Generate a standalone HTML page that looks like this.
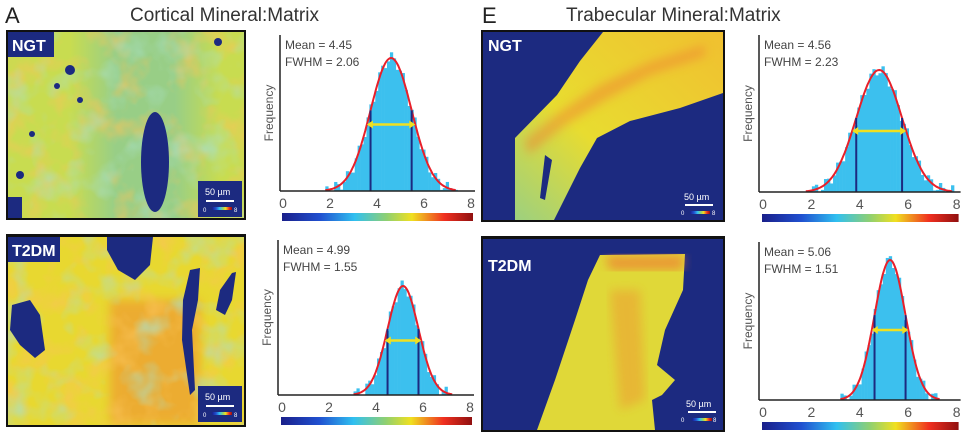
<!DOCTYPE html>
<html><head><meta charset="utf-8"><style>
html,body{margin:0;padding:0;background:#fff;}
svg{display:block;font-family:"Liberation Sans",sans-serif;}
</style></head><body>
<svg id="s" width="968" height="440" viewBox="0 0 968 440" xmlns="http://www.w3.org/2000/svg">
<defs>
<linearGradient id="jet" x1="0" x2="1" y1="0" y2="0">
<stop offset="0" stop-color="#1a1f8a"/><stop offset="0.2" stop-color="#2050d0"/><stop offset="0.38" stop-color="#30c0f0"/><stop offset="0.55" stop-color="#90d070"/><stop offset="0.68" stop-color="#f0e020"/><stop offset="0.85" stop-color="#f03020"/><stop offset="1" stop-color="#901010"/>
</linearGradient>
<linearGradient id="teal" x1="0" x2="1" y1="0" y2="0">
<stop offset="0" stop-color="#90cc90" stop-opacity="0"/><stop offset="0.3" stop-color="#90cc90" stop-opacity="0.85"/><stop offset="0.7" stop-color="#90cc90" stop-opacity="0.85"/><stop offset="1" stop-color="#90cc90" stop-opacity="0"/>
</linearGradient>
<linearGradient id="band" x1="0" x2="1" y1="1" y2="0">
<stop offset="0" stop-color="#9cd080"/><stop offset="0.4" stop-color="#e8dc30"/><stop offset="1" stop-color="#f0c030"/>
</linearGradient>
<filter id="n" x="0" y="0" width="1" height="1"><feTurbulence type="fractalNoise" baseFrequency="0.035" numOctaves="3" seed="3"/><feColorMatrix type="matrix" values="0 0 0 0 0.95  0 0 0 0 0.55  0 0 0 0 0.1  0 0 0 1.6 -0.75"/></filter>
<filter id="n2" x="0" y="0" width="1" height="1"><feTurbulence type="fractalNoise" baseFrequency="0.03" numOctaves="3" seed="8"/><feColorMatrix type="matrix" values="0 0 0 0 0.4  0 0 0 0 0.75  0 0 0 0 0.6  0 0 0 1.6 -0.8"/></filter>
<filter id="bl"><feGaussianBlur stdDeviation="5"/></filter>
<clipPath id="c1"><rect x="8" y="32" width="236" height="186"/></clipPath>
<clipPath id="c2"><rect x="8" y="237" width="236" height="188"/></clipPath>
<clipPath id="c3"><rect x="483" y="32" width="240" height="188"/></clipPath>
<clipPath id="c4"><rect x="483" y="239" width="240" height="191"/></clipPath>
</defs>
<text x="5" y="23" font-size="22" fill="#222">A</text>
<text x="130" y="21" font-size="19" fill="#333">Cortical Mineral:Matrix</text>
<text x="482" y="23" font-size="22" fill="#222">E</text>
<text x="566" y="21" font-size="19" fill="#333">Trabecular Mineral:Matrix</text>

<!-- Map 1 cortical NGT -->
<rect x="6" y="30" width="240" height="190" fill="#111"/>
<g clip-path="url(#c1)">
<rect x="8" y="32" width="236" height="186" fill="#c8dc50"/>
<rect x="70" y="32" width="150" height="186" fill="url(#teal)"/>
<rect x="8" y="32" width="236" height="186" filter="url(#n)"/>
<rect x="8" y="32" width="236" height="186" filter="url(#n2)"/>
<ellipse cx="155" cy="162" rx="14" ry="50" fill="#1c2a80"/>
<circle cx="70" cy="70" r="5" fill="#1c2a80"/><circle cx="57" cy="86" r="3" fill="#1c2a80"/>
<circle cx="80" cy="100" r="3" fill="#1c2a80"/><circle cx="32" cy="134" r="3" fill="#1c2a80"/>
<circle cx="20" cy="175" r="4" fill="#1c2a80"/><circle cx="218" cy="42" r="4" fill="#1c2a80"/>
<rect x="8" y="197" width="14" height="21" fill="#1c2a80"/>
</g>
<rect x="8" y="32" width="46" height="25" fill="#1c2a80"/>
<text x="12" y="51" font-size="16" font-weight="bold" fill="#fff">NGT</text>
<rect x="198" y="181" width="44" height="36" fill="#1c2a80"/>
<text x="205" y="195" font-size="9" fill="#fff">50 µm</text>
<rect x="206" y="200" width="28" height="2" fill="#fff"/>
<rect x="212" y="207" width="20" height="3" fill="url(#jet)"/>
<text x="203" y="212" font-size="6" fill="#fff">0</text><text x="234" y="212" font-size="6" fill="#fff">8</text>

<!-- Map 2 cortical T2DM -->
<rect x="6" y="234" width="240" height="193" fill="#111"/>
<g clip-path="url(#c2)">
<rect x="8" y="237" width="236" height="188" fill="#e8d830"/>
<rect x="110" y="300" width="90" height="125" fill="#f09030" opacity="0.6" filter="url(#bl)"/>
<rect x="8" y="237" width="236" height="188" filter="url(#n)"/>
<rect x="8" y="237" width="236" height="188" filter="url(#n2)"/>
<path d="M107 237 L153 237 L150 265 L135 280 L118 270 L107 250Z" fill="#1c2a80"/>
<path d="M12 305 L30 300 L40 315 L45 350 L35 358 L20 345 L10 330Z" fill="#1c2a80"/>
<path d="M190 270 L200 268 L198 300 L192 330 L195 390 L190 395 L182 340 L183 300Z" fill="#1c2a80"/>
<path d="M232 273 L236 272 L232 300 L225 315 L216 310 L220 290Z" fill="#1c2a80"/>
</g>
<rect x="8" y="237" width="52" height="25" fill="#1c2a80"/>
<text x="12" y="256" font-size="16" font-weight="bold" fill="#fff">T2DM</text>
<rect x="198" y="386" width="44" height="36" fill="#1c2a80"/>
<text x="205" y="400" font-size="9" fill="#fff">50 µm</text>
<rect x="206" y="405" width="28" height="2" fill="#fff"/>
<rect x="212" y="412" width="20" height="3" fill="url(#jet)"/>
<text x="203" y="417" font-size="6" fill="#fff">0</text><text x="234" y="417" font-size="6" fill="#fff">8</text>

<!-- Map 3 trabecular NGT -->
<rect x="481" y="30" width="244" height="192" fill="#111"/>
<g clip-path="url(#c3)">
<rect x="483" y="32" width="240" height="188" fill="#1c2a80"/>
<path d="M603 32 L723 32 L723 93 L680 108 L630 121 L597 138 L580 168 L553 222 L515 222 L515 138 L557 95 L580 61Z" fill="url(#band)"/>
<path d="M525 140 L560 112 L600 85 L650 62 L705 45 L705 56 L650 75 L605 100 L565 125 L528 155Z" fill="#f08030" opacity="0.5" filter="url(#bl)"/>
<path d="M545 155 L552 160 L545 200 L540 198Z" fill="#1c2a80"/>
</g>
<text x="488" y="51" font-size="16" font-weight="bold" fill="#fff">NGT</text>
<text x="684" y="200" font-size="9" fill="#fff">50 µm</text>
<rect x="685" y="204" width="28" height="2" fill="#fff"/>
<rect x="690" y="211" width="20" height="3" fill="url(#jet)"/>
<text x="681" y="215" font-size="6" fill="#fff">0</text><text x="712" y="215" font-size="6" fill="#fff">8</text>

<!-- Map 4 trabecular T2DM -->
<rect x="481" y="236" width="244" height="196" fill="#111"/>
<g clip-path="url(#c4)">
<rect x="483" y="239" width="240" height="191" fill="#1c2a80"/>
<path d="M600 255 L685 254 L683 290 L665 330 L657 365 L675 380 L662 395 L652 400 L655 430 L537 430 L555 380 L575 320 L588 280Z" fill="#e0d838"/>
<path d="M605 256 L684 255 L683 270 L610 270Z" fill="#f07030" opacity="0.6" filter="url(#bl)"/>
<path d="M610 290 L640 290 L645 400 L620 410Z" fill="#f09030" opacity="0.45" filter="url(#bl)"/>
</g>
<text x="488" y="271" font-size="16" font-weight="bold" fill="#fff">T2DM</text>
<text x="686" y="407" font-size="9" fill="#fff">50 µm</text>
<rect x="688" y="411" width="28" height="2" fill="#fff"/>
<rect x="692" y="418" width="20" height="3" fill="url(#jet)"/>
<text x="681" y="422" font-size="6" fill="#fff">0</text><text x="713" y="422" font-size="6" fill="#fff">8</text>

<g id="hists"></g>
</svg>
<script>
var NS="http://www.w3.org/2000/svg",g=document.getElementById("hists");
function el(t,a,txt){var e=document.createElementNS(NS,t);for(var k in a)e.setAttribute(k,a[k]);if(txt)e.textContent=txt;g.appendChild(e);return e;}
function hist(o){
 var x0=o.ax,y0=o.ay,sc=o.sc,top=o.top;
 var sig=o.fw/2.355, h=y0-o.peakY;
 function gx(v){return o.zx+v*sc;}
 function gy(v){return y0-h*Math.exp(-(v-o.mu)*(v-o.mu)/(2*sig*sig));}
 var bw=sc/8;
 for(var v=o.mu-3.2*sig;v<o.mu+3.2*sig;v+=1/8){
  var y=gy(v+1/16)+ (Math.sin(v*37)*6);
  if(y>y0-1)continue; y=Math.min(y,y0-1);
  el("rect",{x:gx(v),y:y,width:bw+0.3,height:y0-y,fill:"#3cc0ee"});
 }
 var d="";for(var v=o.mu-3.2*sig;v<=o.mu+3.2*sig;v+=0.05){d+=(d?"L":"M")+gx(v).toFixed(1)+" "+gy(v).toFixed(1);}
 el("path",{d:d,fill:"none",stroke:"#e8202a","stroke-width":2});
 var l=o.mu-sig,r=o.mu+sig;
 el("line",{x1:gx(l),x2:gx(l),y1:gy(l),y2:y0,stroke:"#1c2a80","stroke-width":2});
 el("line",{x1:gx(r),x2:gx(r),y1:gy(r),y2:y0,stroke:"#1c2a80","stroke-width":2});
 var hy=gy(o.mu+o.fw/2);
 el("line",{x1:gx(o.mu-o.fw/2)+4,x2:gx(o.mu+o.fw/2)-4,y1:hy,y2:hy,stroke:"#f0e020","stroke-width":2.5});
 el("path",{d:"M"+(gx(o.mu-o.fw/2))+" "+hy+"l6 -4v8z M"+(gx(o.mu+o.fw/2))+" "+hy+"l-6 -4v8z",fill:"#f0e020"});
 el("line",{x1:x0,x2:x0,y1:top,y2:y0,stroke:"#222","stroke-width":1.5});
 el("line",{x1:x0,x2:gx(8)+4,y1:y0,y2:y0,stroke:"#222","stroke-width":1.5});
 for(var i=0;i<=8;i+=2)el("text",{x:gx(i),y:y0+17,"font-size":14,fill:"#555","text-anchor":"middle"},""+i);
 el("rect",{x:o.zx-1,y:y0+22,width:sc*8+3,height:8,fill:"url(#jet)"});
 el("text",{x:x0+5,y:top+14,"font-size":12,fill:"#444"},"Mean = "+o.m);
 el("text",{x:x0+5,y:top+31,"font-size":12,fill:"#444"},"FWHM = "+o.f);
 el("text",{x:0,y:0,"font-size":12,fill:"#555","text-anchor":"middle",transform:"translate("+(x0-7)+","+((top+y0)/2)+") rotate(-90)"},"Frequency");
}
hist({ax:280,ay:191,top:35,zx:283,sc:23.5,mu:4.6,fw:2.06,peakY:58,m:"4.45",f:"2.06"});
hist({ax:278,ay:395,top:240,zx:282,sc:23.5,mu:5.15,fw:1.55,peakY:286,m:"4.99",f:"1.55"});
hist({ax:759,ay:192,top:35,zx:763,sc:24.2,mu:4.8,fw:2.23,peakY:70,m:"4.56",f:"2.23"});
hist({ax:759,ay:400,top:242,zx:763,sc:24.2,mu:5.25,fw:1.51,peakY:260,m:"5.06",f:"1.51"});
</script>
</body></html>
